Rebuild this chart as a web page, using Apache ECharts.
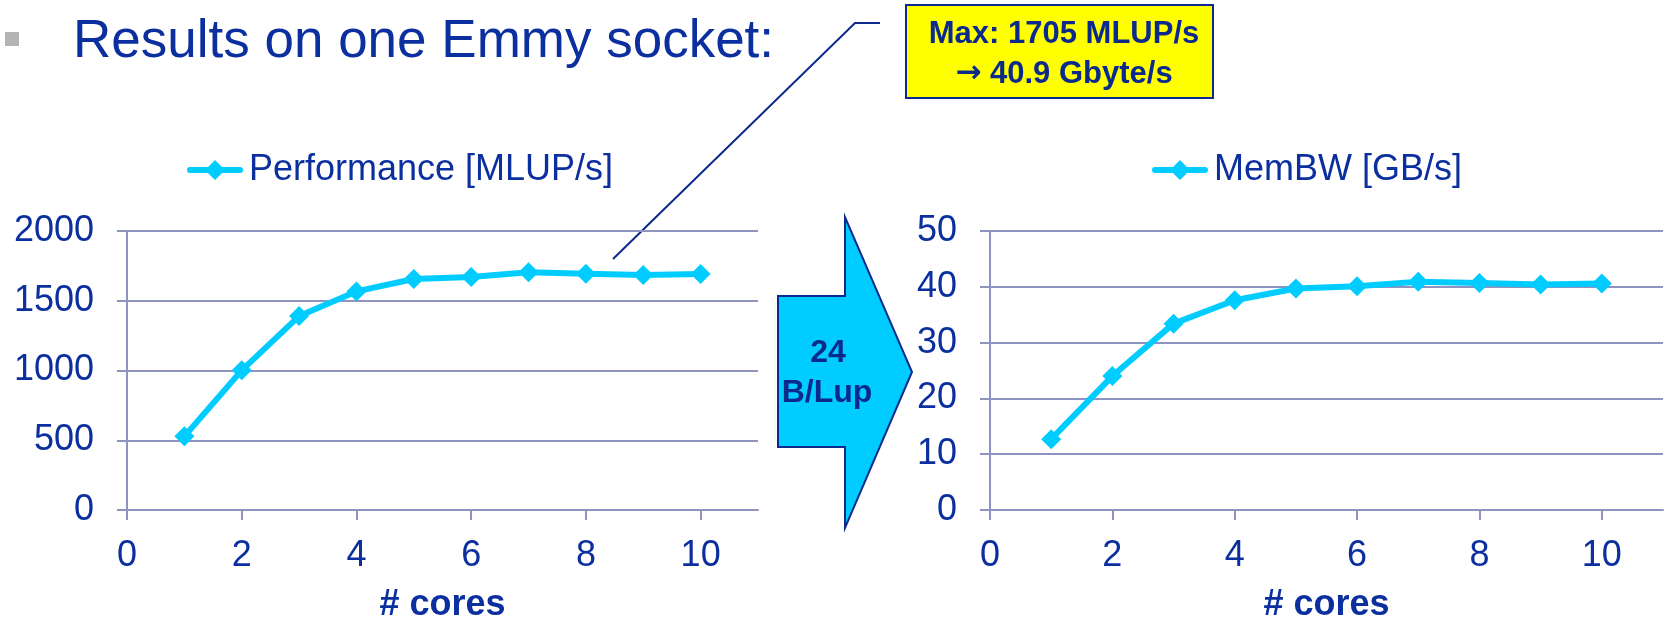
<!DOCTYPE html>
<html>
<head>
<meta charset="utf-8">
<title>Results on one Emmy socket</title>
<script src="https://cdn.jsdelivr.net/npm/echarts@6/dist/echarts.min.js"></script>
<style>
  html, body { margin: 0; padding: 0; background: #ffffff; }
  #chart { width: 1670px; height: 624px; }
</style>
</head>
<body>
<div id="chart"></div>
<script>
// Core counts (x values) and measured results per core count
const cores = [1, 2, 3, 4, 5, 6, 7, 8, 9, 10];
const perfMLUPs = [528, 1001, 1390, 1567, 1656, 1670, 1705, 1694, 1684, 1691];
const memBWGBs = [12.7, 24.0, 33.4, 37.6, 39.7, 40.1, 40.9, 40.7, 40.4, 40.6];

// Axis ticks
const xTicks = [0, 2, 4, 6, 8, 10];
const perfTicks = [0, 500, 1000, 1500, 2000];
const bwTicks = [0, 10, 20, 30, 40, 50];

const seriesNames = ['Performance [MLUP/s]', 'MemBW [GB/s]'];
const titleText = 'Results on one Emmy socket:';
const xName = '# cores';
const bytesPerLup = '24';

const FONT = 'Arial, "Liberation Sans", sans-serif';
const BLUE = '#0b2f9f';
const DARK = '#0b2a8c';
const GRID = '#8f93c0';
const CYAN = '#00ccff';

// Legend glyph: thick line segment with a diamond marker in the middle
const LEGEND_ICON = 'path://M3,7H53A3,3,0,0,1,53,13H3A3,3,0,0,1,3,7Z M28,0L38,10L28,20L18,10Z';

const maxIdx = perfMLUPs.indexOf(Math.max(...perfMLUPs));
const calloutLine1 = 'Max: ' + perfMLUPs[maxIdx] + ' MLUP/s';
const calloutLine2 = '{arr|\u2192} ' + memBWGBs[maxIdx].toFixed(1) + ' Gbyte/s';

function pairs(ys) { return cores.map((c, i) => [c, ys[i]]); }

function xAxisCfg(gridIndex) {
  return {
    gridIndex, type: 'value', min: 0, max: 11,
    name: xName, nameLocation: 'middle', nameGap: 77,
    nameTextStyle: { color: BLUE, fontFamily: FONT, fontSize: 36, fontWeight: 'bold' },
    axisLine: { show: true, lineStyle: { color: GRID, width: 2 } },
    axisTick: { show: true, length: 10, customValues: xTicks, lineStyle: { color: GRID, width: 2 } },
    axisLabel: { customValues: xTicks, margin: 28, color: BLUE, fontFamily: FONT, fontSize: 36 },
    splitLine: { show: false }
  };
}

function yAxisCfg(gridIndex, ticks) {
  return {
    gridIndex, type: 'value', min: ticks[0], max: ticks[ticks.length - 1],
    interval: ticks[1] - ticks[0],
    axisLine: { show: true, lineStyle: { color: GRID, width: 2 } },
    axisTick: { show: true, length: 10, lineStyle: { color: GRID, width: 2 } },
    axisLabel: { margin: 33, color: BLUE, fontFamily: FONT, fontSize: 36, formatter: v => String(v) },
    splitLine: { show: true, lineStyle: { color: GRID, width: 2 } }
  };
}

function seriesCfg(idx, ys) {
  return {
    name: seriesNames[idx], type: 'line', xAxisIndex: idx, yAxisIndex: idx,
    data: pairs(ys), symbol: 'diamond', symbolSize: 20,
    lineStyle: { color: CYAN, width: 6 },
    itemStyle: { color: CYAN },
    emphasis: { disabled: true }
  };
}

function legendCfg(idx, left) {
  return {
    data: [{ name: seriesNames[idx], icon: LEGEND_ICON }],
    left, top: 152, padding: 0,
    itemWidth: 56, itemHeight: 20, itemGap: 0,
    selectedMode: false,
    textStyle: { color: BLUE, fontFamily: FONT, fontSize: 36, padding: [0, 0, 0, 1] }
  };
}

const chart = echarts.init(document.getElementById('chart'), null, { renderer: 'canvas' });
chart.setOption({
  animation: false,
  backgroundColor: '#ffffff',
  grid: [
    { left: 127, top: 231, width: 631, height: 283 },
    { left: 990, top: 231, width: 673, height: 283 }
  ],
  xAxis: [xAxisCfg(0), xAxisCfg(1)],
  yAxis: [yAxisCfg(0, perfTicks), yAxisCfg(1, bwTicks)],
  legend: [legendCfg(0, 187), legendCfg(1, 1152)],
  series: [seriesCfg(0, perfMLUPs), seriesCfg(1, memBWGBs)],
  graphic: [
    // bullet and heading
    { type: 'rect', shape: { x: 5, y: 32, width: 14, height: 14 }, style: { fill: '#b4b4b4' } },
    { type: 'text', style: { x: 73, y: 42, text: titleText, fill: BLUE, font: '53px ' + FONT, verticalAlign: 'middle' } },
    // callout pointer
    { type: 'polyline', shape: { points: [[880, 23], [855, 23], [613, 259]] }, style: { stroke: DARK, lineWidth: 2, fill: null } },
    // callout box
    { type: 'rect', shape: { x: 906, y: 5, width: 307, height: 93 }, style: { fill: '#ffff00', stroke: DARK, lineWidth: 2 } },
    { type: 'text', style: { x: 1064, y: 34, text: calloutLine1, fill: DARK, font: 'bold 31px ' + FONT, align: 'center', verticalAlign: 'middle' } },
    { type: 'text', style: { x: 1064, y: 74, text: calloutLine2, fill: DARK, font: 'bold 31px ' + FONT, align: 'center', verticalAlign: 'middle',
      rich: { arr: { fontFamily: '"DejaVu Sans", sans-serif', fontWeight: 'bold', fontSize: 31, fill: DARK } } } },
    // conversion arrow between the two charts
    { type: 'polygon', shape: { points: [[778, 296], [845, 296], [845, 217], [912, 372], [845, 528], [845, 447], [778, 447]] },
      style: { fill: CYAN, stroke: DARK, lineWidth: 2 } },
    { type: 'text', style: { x: 828, y: 353, text: bytesPerLup, fill: DARK, font: 'bold 32px ' + FONT, align: 'center', verticalAlign: 'middle' } },
    { type: 'text', style: { x: 827, y: 393, text: 'B/Lup', fill: DARK, font: 'bold 32px ' + FONT, align: 'center', verticalAlign: 'middle' } }
  ]
});
</script>
</body>
</html>
